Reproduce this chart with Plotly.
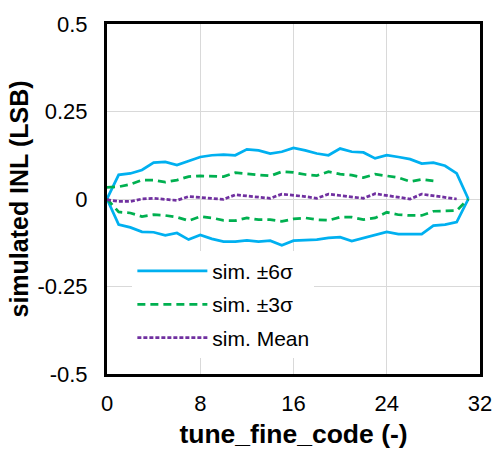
import plotly.graph_objects as go

codes = list(range(32))
sig6_upper = [0, 0.069, 0.073, 0.083, 0.104, 0.106, 0.097, 0.108, 0.120, 0.125, 0.127, 0.125,
              0.142, 0.139, 0.130, 0.135, 0.146, 0.139, 0.130, 0.125, 0.144, 0.135, 0.133, 0.116,
              0.125, 0.120, 0.114, 0.101, 0.104, 0.095, 0.073, 0]
sig6_lower = [0, -0.073, -0.081, -0.094, -0.095, -0.104, -0.097, -0.116, -0.103, -0.114, -0.122, -0.122,
              -0.118, -0.122, -0.119, -0.132, -0.119, -0.118, -0.116, -0.111, -0.109, -0.120, -0.111, -0.104,
              -0.094, -0.100, -0.101, -0.100, -0.076, -0.073, -0.066, 0]
sig3_upper = [0.033, 0.035, 0.042, 0.054, 0.054, 0.048, 0.054, 0.064, 0.066, 0.065, 0.064, 0.075,
              0.072, 0.068, 0.066, 0.078, 0.076, 0.070, 0.067, 0.078, 0.071, 0.068, 0.061, 0.071,
              0.066, 0.061, 0.050, 0.056, 0.052, None, None, None]
sig3_lower = [0, -0.037, -0.040, -0.050, -0.045, -0.047, -0.052, -0.062, -0.050, -0.054, -0.061, -0.062,
              -0.054, -0.059, -0.059, -0.064, -0.057, -0.054, -0.059, -0.061, -0.052, -0.052, -0.059, -0.054,
              -0.038, -0.045, -0.047, -0.047, -0.035, -0.033, -0.033, 0]
mean_vals = [-0.002, -0.007, -0.007, 0, 0.002, 0, -0.004, 0.007, 0.005, 0.002, -0.001, 0.012,
             0.009, 0.004, 0.002, 0.014, 0.011, 0.007, 0.002, 0.014, 0.010, 0.007, 0.002, 0.015,
             0.010, 0.005, 0, 0.014, 0.010, 0.005, 0, None]

x_ticks = [0, 8, 16, 24, 32]
y_ticks = [-0.5, -0.25, 0, 0.25, 0.5]
y_tick_text = ["-0.5", "-0.25", "0", "0.25", "0.5"]

CYAN = "#00B0F0"
GREEN = "#00B050"
PURPLE = "#7030A0"
FONT = "Liberation Sans, Arial, sans-serif"

fig = go.Figure()
fig.add_trace(go.Scatter(x=codes, y=sig6_upper, mode="lines", name="sim. ±6σ",
                         legendgroup="s6", line=dict(color=CYAN, width=2.75)))
fig.add_trace(go.Scatter(x=codes, y=sig6_lower, mode="lines", name="sim. ±6σ",
                         legendgroup="s6", showlegend=False, line=dict(color=CYAN, width=2.75)))
fig.add_trace(go.Scatter(x=codes, y=sig3_upper, mode="lines", name="sim. ±3σ",
                         legendgroup="s3", line=dict(color=GREEN, width=2.75, dash="8px,5px")))
fig.add_trace(go.Scatter(x=codes, y=sig3_lower, mode="lines", name="sim. ±3σ",
                         legendgroup="s3", showlegend=False,
                         line=dict(color=GREEN, width=2.75, dash="8px,5px")))
fig.add_trace(go.Scatter(x=codes, y=mean_vals, mode="lines", name="sim. Mean",
                         legendgroup="m", line=dict(color=PURPLE, width=2.75, dash="4px,2px")))

fig.update_layout(
    width=504, height=458,
    margin=dict(l=107, r=16, t=21, b=84),
    paper_bgcolor="white", plot_bgcolor="white",
    font=dict(family=FONT, size=22, color="black"),
    showlegend=True,
    legend=dict(x=0.068, y=0.352, xanchor="left", yanchor="top",
                bgcolor="white", font=dict(size=21, family=FONT, color="black"),
                itemwidth=70, tracegroupgap=3),
    xaxis=dict(range=[0, 32], tickvals=x_ticks, ticks="", showgrid=True,
               gridcolor="#d9d9d9", gridwidth=1, zeroline=False,
               showline=True, linecolor="black", linewidth=3, mirror=True,
               tickfont=dict(size=22), ticklabelstandoff=8,
               title=dict(text="<b>tune_fine_code (-)</b>", font=dict(size=26.5), standoff=10)),
    yaxis=dict(range=[-0.5, 0.5], tickvals=y_ticks, ticktext=y_tick_text, ticks="",
               showgrid=True, gridcolor="#d9d9d9", gridwidth=1, zeroline=False,
               showline=True, linecolor="black", linewidth=3, mirror=True,
               tickfont=dict(size=22), ticklabelstandoff=12,
               title=dict(text="<b>simulated INL (LSB)</b>", font=dict(size=25), standoff=2)),
)

fig.write_html("out.html")
